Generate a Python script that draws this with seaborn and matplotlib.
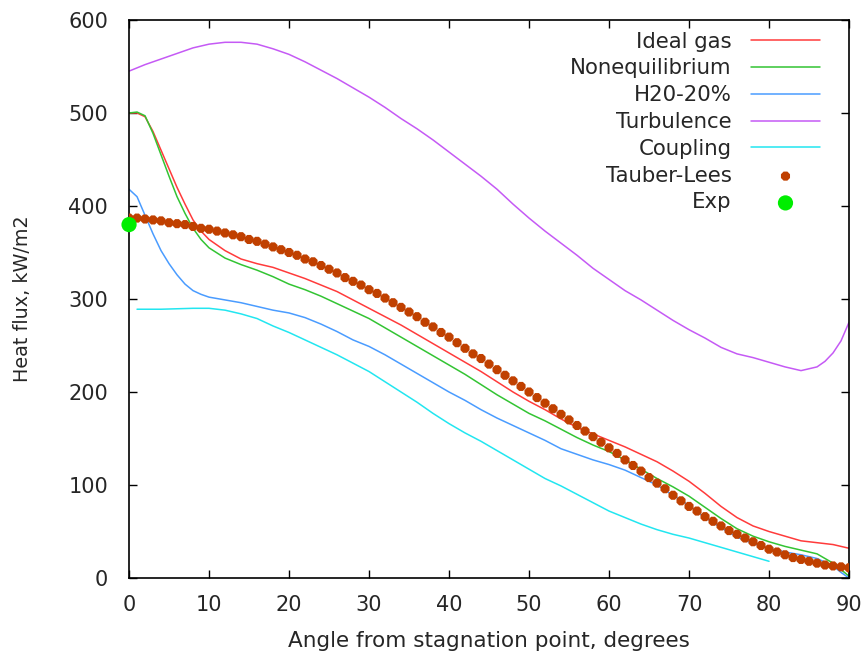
import numpy as np
import pandas as pd
import matplotlib
matplotlib.use('Agg')
import matplotlib.pyplot as plt
import seaborn as sns

# ── Data ──────────────────────────────────────────────────
ideal_x = [0, 1, 2, 3, 4, 5, 6, 7, 8, 9, 10, 12, 14, 16, 18, 20, 22, 24, 26, 28, 30,
           32, 34, 36, 38, 40, 42, 44, 46, 48, 50, 52, 54, 56, 58, 60, 62, 64, 66, 68,
           70, 72, 74, 76, 78, 80, 82, 84, 86, 88, 89, 90]
ideal_y = [500, 500, 496, 480, 460, 440, 420, 402, 385, 373, 364, 352, 343, 338, 334, 328,
           322, 315, 308, 299, 290, 281, 272, 262, 252, 242, 232, 222, 211, 200, 190, 181,
           171, 162, 155, 148, 141, 133, 125, 115, 104, 91, 77, 65, 56, 50, 45, 40, 38,
           36, 34, 32]

noneq_x = ideal_x
noneq_y = [500, 501, 497, 478, 455, 432, 410, 392, 376, 364, 355, 344, 337, 331, 324, 316,
           310, 303, 295, 287, 279, 269, 259, 249, 239, 229, 219, 208, 197, 187, 177, 169,
           160, 151, 143, 136, 127, 117, 107, 98, 88, 76, 64, 53, 45, 39, 34, 30, 26,
           16, 9, 2]

h2o_x = ideal_x
h2o_y = [418, 410, 390, 370, 352, 338, 326, 316, 309, 305, 302, 299, 296, 292, 288, 285,
         280, 273, 265, 256, 249, 240, 230, 220, 210, 200, 191, 181, 172, 164, 156, 148,
         139, 133, 127, 122, 116, 108, 100, 89, 78, 65, 54, 44, 37, 32, 28, 25, 21,
         13, 6, 0]

turb_x = [0, 2, 4, 6, 8, 10, 12, 14, 16, 18, 20, 22, 24, 26, 28, 30, 32, 34, 36, 38, 40,
          42, 44, 46, 48, 50, 52, 54, 56, 58, 60, 62, 64, 66, 68, 70, 72, 74, 76, 78, 80,
          82, 84, 86, 87, 88, 89, 90]
turb_y = [545, 552, 558, 564, 570, 574, 576, 576, 574, 569, 563, 555, 546, 537, 527, 517,
          506, 494, 483, 471, 458, 445, 432, 418, 402, 387, 373, 360, 347, 333, 321, 309,
          299, 288, 277, 267, 258, 248, 241, 237, 232, 227, 223, 227, 233, 242, 255, 275]

coup_x = [1, 4, 8, 10, 12, 14, 16, 18, 20, 22, 24, 26, 28, 30, 32, 34, 36, 38, 40, 42, 44,
          46, 48, 50, 52, 54, 56, 58, 60, 62, 64, 66, 68, 70, 72, 74, 76, 78, 80]
coup_y = [289, 289, 290, 290, 288, 284, 279, 271, 264, 256, 248, 240, 231, 222, 211, 200,
          189, 177, 166, 156, 147, 137, 127, 117, 107, 99, 90, 81, 72, 65, 58, 52, 47,
          43, 38, 33, 28, 23, 18]

tauber_x = list(range(0, 91))
tauber_y = [387, 387, 386, 385, 384, 382, 381, 380, 378, 376, 375, 373, 371, 369, 367, 364,
            362, 359, 356, 353, 350, 347, 343, 340, 336, 332, 328, 323, 319, 315, 310, 306,
            301, 296, 291, 286, 281, 275, 270, 264, 259, 253, 247, 241, 236, 230, 224, 218,
            212, 206, 200, 194, 188, 182, 176, 170, 164, 158, 152, 146, 140, 134, 127, 121,
            115, 108, 102, 96, 89, 83, 77, 72, 66, 61, 56, 51, 47, 43, 39, 35, 31, 28, 25,
            22, 20, 18, 16, 14, 13, 12, 11]

exp_x = [0]
exp_y = [380]

# ── Style ────────────────────────────────────────────────
sns.set_style('ticks')
plt.rcParams['font.family'] = ['DejaVu Sans']
TXT = '#262626'

fig = plt.figure(figsize=(8.66, 6.57), dpi=100)
ax = fig.add_axes([0.149, 0.1202, 0.8314, 0.8494])

sns.lineplot(x=ideal_x, y=ideal_y, ax=ax, color='#ff3b3b', lw=1.1, label='Ideal gas')
sns.lineplot(x=noneq_x, y=noneq_y, ax=ax, color='#33c433', lw=1.1, label='Nonequilibrium')
sns.lineplot(x=h2o_x, y=h2o_y, ax=ax, color='#4a9cff', lw=1.1, label='H20-20%')
sns.lineplot(x=turb_x, y=turb_y, ax=ax, color='#c55af5', lw=1.1, label='Turbulence')
sns.lineplot(x=coup_x, y=coup_y, ax=ax, color='#22e6f0', lw=1.1, label='Coupling')
sns.scatterplot(x=tauber_x, y=tauber_y, ax=ax, color='#c04000', marker='8', s=50,
                edgecolor='none', label='Tauber-Lees', zorder=3)
sns.scatterplot(x=exp_x, y=exp_y, ax=ax, color='#00ee00', marker='o', s=120,
                edgecolor='none', label='Exp', zorder=4, clip_on=False)

ax.set_xlim(0, 90)
ax.set_ylim(0, 600)
ax.set_xticks(np.arange(0, 91, 10))
ax.set_yticks(np.arange(0, 601, 100))
ax.tick_params(direction='in', length=6, width=1, top=True, right=True,
               labelsize=15, colors='black', labelcolor=TXT)
ax.tick_params(axis='x', pad=12.5)
ax.tick_params(axis='y', pad=15)
for s in ax.spines.values():
    s.set_color('black')
    s.set_linewidth(1.2)
    s.set_visible(True)

ax.set_xlabel('Angle from stagnation point, degrees', fontsize=15.5, labelpad=11, color=TXT)
ax.set_ylabel('Heat flux, kW/m2', fontsize=13.8, labelpad=26, color=TXT)

leg = ax.legend(loc='upper right', bbox_to_anchor=(0.96, 0.979), frameon=False,
                markerfirst=False, handlelength=3.27, handletextpad=0.91,
                labelspacing=0.32, borderaxespad=0, borderpad=0, fontsize=15.3,
                labelcolor=TXT)

plt.savefig('out.png', dpi=100, facecolor='white')
